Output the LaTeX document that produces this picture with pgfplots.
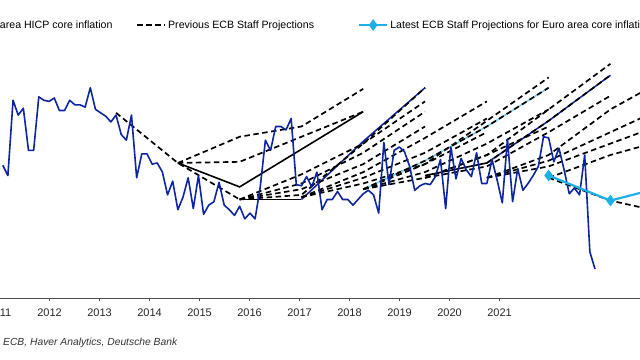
\documentclass[border=0pt]{standalone}
\usepackage{pgfplots}
\pgfplotsset{compat=1.18}
\usepackage{fontspec}
\setmainfont{Liberation Sans}
\definecolor{coreblue}{RGB}{13,37,160}
\definecolor{ltblue}{RGB}{28,176,230}
\pgfplotsset{
 proj/.style={black, line width=1.7bp, dash pattern=on 5.5bp off 3.5bp, forget plot},
 projsolid/.style={black, line width=1.6bp, forget plot},
}
\begin{document}
\begin{tikzpicture}
\begin{axis}[
  x=5.15bp, y=114bp,
  xmin=10, xmax=136.738,
  ymin=-0.0544, ymax=2.5596,
  axis x line*=bottom, axis y line=none,
  axis line style={-, draw=black!70, line width=0.8bp},
  xtick={12.37,22.08,31.79,41.50,51.21,60.92,70.63,80.33,90.04,99.75,109.46},
  xticklabels={2011,2012,2013,2014,2015,2016,2017,2018,2019,2020,2021},
  xtick align=outside, major tick length=3bp,
  xtick style={draw=black!70, line width=0.8bp},
  xticklabel style={font=\fontsize{11bp}{13bp}\selectfont, text=black!85, yshift=-4bp},
  legend columns=3,
  legend style={draw=none, fill=none, inner sep=0pt, outer sep=0pt,
    at={(axis cs:1.4,2.340)}, anchor=west,
    font=\fontsize{10.6bp}{12bp}\selectfont,
    nodes={inner sep=0pt},
    /tikz/every odd column/.append style={column sep=2bp},
    /tikz/every even column/.append style={column sep=24bp}},
  legend cell align=left,
  legend image code/.code={\draw[mark repeat=2,mark phase=2,#1] plot coordinates {(0bp,0bp) (14bp,0bp) (28bp,0bp)};},
]
\coordinate (O) at (axis cs:12.466,2.5596);
\addlegendimage{coreblue, line width=1.6bp}
\addlegendentry{Euro area HICP core inflation}
\addlegendimage{black, line width=1.7bp, dash pattern=on 5.5bp off 3.5bp}
\addlegendentry{Previous ECB Staff Projections\hspace*{20bp}}
\addlegendimage{ltblue, line width=2.2bp, mark=diamond*, mark size=4bp}
\addlegendentry{Latest ECB Staff Projections for Euro area core inflation}

% previous projections (annual points plotted at December)
\addplot[proj] coordinates {(35,1.57)(47,1.13)(59,0.81)};
\addplot[proj] coordinates {(47,1.13)(59,1.36)(71,1.45)(83,1.78)};
\addplot[proj] coordinates {(47,1.13)(59,1.14)(71,1.36)(83,1.58)};
\addplot[projsolid] coordinates {(47,1.13)(59,0.92)(71,1.25)(83,1.58)};
\addplot[coreblue, line width=1.5bp, forget plot] coordinates {(71,0.81)(83,1.32)(95,1.79)};
\addplot[projsolid] coordinates {(59,0.81)(71,0.81)};
\addplot[proj] coordinates {(59,0.81)(71,0.85)(83,1.30)(95,1.79)};
\addplot[proj] coordinates {(59,0.81)(71,1.03)(83,1.30)(95,1.67)};
\addplot[proj] coordinates {(59,0.81)(71,0.95)(83,1.22)(95,1.58)};
\addplot[proj] coordinates {(59,0.81)(71,0.90)(83,1.12)(95,1.45)};
\addplot[proj] coordinates {(71,0.83)(83,1.05)(95,1.35)(107,1.67)};
\addplot[proj] coordinates {(71,0.83)(83,1.00)(95,1.22)(107,1.52)};
\addplot[proj] coordinates {(71,0.83)(83,0.95)(95,1.12)(107,1.40)};
\addplot[proj] coordinates {(83,0.90)(95,1.12)(107,1.50)(119,1.88)};
\addplot[ltblue!60, line width=1.5bp, forget plot] coordinates {(83,0.90)(95,1.15)(107,1.45)(119,1.79)};
\addplot[proj] coordinates {(83,0.90)(95,1.15)(107,1.45)(119,1.79)};
\addplot[proj] coordinates {(83,0.90)(95,1.05)(107,1.30)(119,1.60)};
\addplot[proj] coordinates {(83,0.90)(95,1.00)(107,1.20)(119,1.45)};
\addplot[proj] coordinates {(95,1.00)(107,1.20)(119,1.60)(131,2.00)};
\addplot[projsolid] coordinates {(95,1.02)(107,1.13)};
\addplot[coreblue, line width=1.5bp, forget plot] coordinates {(107,1.13)(119,1.50)(131,1.90)};
\addplot[proj] coordinates {(107,1.13)(119,1.50)(131,1.90)};
\addplot[proj] coordinates {(95,1.00)(107,1.10)(119,1.40)(131,1.72)};
\addplot[proj] coordinates {(107,1.00)(119,1.20)(131,1.60)(143,1.90)};
\addplot[proj] coordinates {(107,1.00)(119,1.15)(131,1.40)(143,1.65)};
\addplot[proj] coordinates {(107,1.00)(119,1.10)(131,1.30)(143,1.50)};
\addplot[proj] coordinates {(119,1.00)(131,1.20)(143,1.35)};
\addplot[proj] coordinates {(119,1.00)(131,0.80)(143,0.68)};

% core inflation, monthly
\addplot[coreblue, line width=1.6bp, line join=round, forget plot] coordinates {
(13,1.11)(14,1.02)(15,1.68)(16,1.55)(17,1.61)(18,1.24)(19,1.24)(20,1.71)(21,1.68)(22,1.67)
(23,1.70)(24,1.59)(25,1.59)(26,1.68)(27,1.64)(28,1.64)(29,1.62)(30,1.79)(31,1.60)(32,1.57)
(33,1.54)(34,1.49)(35,1.55)(36,1.38)(37,1.33)(38,1.55)(39,1.00)(40,1.21)(41,1.21)(42,1.12)
(43,1.13)(44,1.05)(45,0.85)(46,0.97)(47,0.72)(48,0.83)(49,1.00)(50,0.73)(51,1.02)(52,0.68)
(53,0.76)(54,0.79)(55,0.96)(56,0.76)(57,0.72)(58,0.67)(59,0.75)(60,0.64)(61,0.69)(62,0.64)
(63,0.92)(64,1.33)(65,1.24)(66,1.45)(67,1.45)(68,1.42)(69,1.52)(70,0.94)(71,0.93)(72,1.01)
(73,0.92)(74,1.05)(75,0.72)(76,0.81)(77,0.81)(78,0.88)(79,0.81)(80,0.81)(81,0.76)(82,0.81)
(83,0.86)(84,0.89)(85,0.85)(86,0.69)(87,1.31)(88,0.94)(89,1.24)(90,1.27)(91,1.23)(92,1.10)
(93,0.89)(94,0.93)(95,0.95)(96,0.94)(97,1.01)(98,1.16)(99,0.73)(100,1.27)(101,0.99)(102,1.17)
(103,1.07)(104,1.01)(105,1.22)(106,0.95)(107,0.95)(108,1.16)(109,0.98)(110,0.78)(111,1.34)(112,0.79)
(113,1.08)(114,0.89)(115,0.95)(116,1.02)(117,1.10)(118,1.36)(119,1.35)(120,1.14)(121,1.26)(122,1.07)
(123,0.86)(124,0.91)(125,0.85)(126,1.20)(127,0.35)(128,0.20)};

% latest projections
\addplot[ltblue, line width=2.2bp, mark=diamond*, mark size=4bp, forget plot] coordinates {(119,1.02)(131,0.80)(143,0.94)};
\end{axis}
\node[anchor=base west, inner sep=0pt, text=black!80, font=\fontsize{10.3bp}{12bp}\selectfont\itshape]
  at ([shift={(3bp,-345bp)}]O) {\llap{Source: }ECB, Haver Analytics, Deutsche Bank};
\pgfresetboundingbox
\path[use as bounding box] (O) rectangle ([shift={(640bp,-360bp)}]O);
\end{tikzpicture}
\end{document}
